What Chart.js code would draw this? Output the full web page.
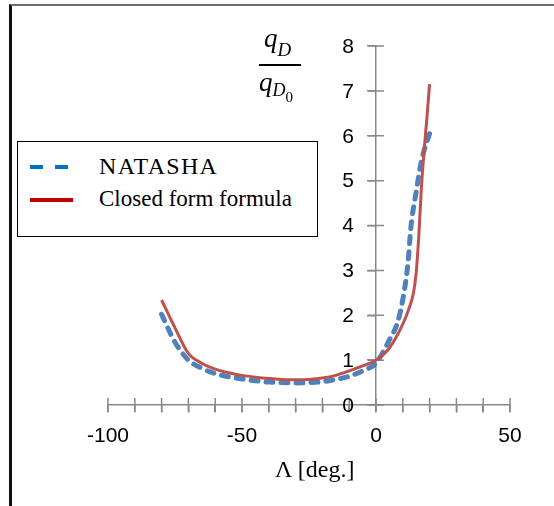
<!DOCTYPE html>
<html>
<head>
<meta charset="utf-8">
<script src="https://cdn.jsdelivr.net/npm/chart.js@4.4.1/dist/chart.umd.min.js"></script>
<style>
  body { margin: 0; background: #fff; }
  #wrap { position: relative; width: 554px; height: 506px; overflow: hidden; background: #fff; }
  #frame { position: absolute; left: 9px; top: 4px; width: 700px; height: 700px;
           border-left: 3px solid #111; border-top: 2px solid #6b6b6b; }
  canvas { position: absolute; left: 0; top: 0; }
  .serif { position: absolute; font-family: 'Liberation Serif', 'Times New Roman', serif; line-height: 1; white-space: nowrap; color: #000; }
  .it { font-style: italic; }
  #bar { position: absolute; left: 259px; top: 64px; width: 42px; height: 2px; background: #000; }
  #legend { position: absolute; left: 17px; top: 141px; width: 301px; height: 96px;
            box-sizing: border-box; border: 1.5px solid #000; background: #fff; }
</style>
</head>
<body>
<div id="wrap">
  <div id="frame"></div>
  <canvas id="chart" width="554" height="506"></canvas>
  <!-- y axis title: q_D / q_D0 -->
  <div class="serif it" style="left:264px; top:25px; font-size:27px;">q<span style="font-size:19px; position:relative; top:9px;">D</span></div>
  <div id="bar"></div>
  <div class="serif it" style="left:259px; top:69px; font-size:27px;">q<span style="font-size:18px; position:relative; top:5px;">D<span style="font-size:15px; font-style:normal; position:relative; top:6px;">0</span></span></div>
  <div class="serif" id="xtitle" style="left:275px; top:457px; font-size:24px;">Λ [deg.]</div>
  <div id="legend"></div>
</div>
<script>
// NATASHA (dashed blue)
const lambdaNatasha = [-80, -75, -70, -65, -60, -55, -50, -45, -40, -35, -30, -25, -20, -15, -10, -5, 0, 3, 5, 8, 10, 12, 13, 15, 17, 20];
const qNatasha = [2.02, 1.4, 1.0, 0.82, 0.7, 0.63, 0.58, 0.54, 0.51, 0.5, 0.49, 0.5, 0.52, 0.57, 0.64, 0.76, 0.93, 1.22, 1.45, 1.83, 2.35, 3.2, 3.95, 4.75, 5.45, 6.05];

// Closed form formula (solid red)
const lambdaClosed = [-80, -75, -70, -65, -60, -55, -50, -45, -40, -35, -30, -25, -20, -15, -10, -5, 0, 5, 10, 12, 14, 15, 16, 17, 18, 19, 20];
const qClosed = [2.34, 1.72, 1.15, 0.93, 0.8, 0.72, 0.66, 0.62, 0.59, 0.57, 0.56, 0.57, 0.6, 0.66, 0.76, 0.87, 1.0, 1.27, 1.8, 2.1, 2.5, 2.95, 3.8, 4.9, 5.7, 6.4, 7.15];

const seriesNames = ['NATASHA', 'Closed form formula'];
const xLabelValues = [-100, -50, 0, 50];

const axisColor = '#888888';
const tickFont = '21px "Liberation Sans", Arial, sans-serif';

function toPoints(xs, ys) {
  return xs.map((v, i) => ({ x: v, y: ys[i] }));
}

// tick marks crossing the axes, and the y labels left of the centred axis
const crossTicks = {
  id: 'crossTicks',
  beforeDatasetsDraw(chart) {
    const { ctx, scales: { x, y } } = chart;
    const x0 = x.getPixelForValue(0);
    const y0 = y.getPixelForValue(0);
    ctx.save();
    ctx.strokeStyle = axisColor;
    ctx.lineWidth = 1.5;
    ctx.beginPath();
    x.ticks.forEach(t => {
      const px = x.getPixelForValue(t.value);
      ctx.moveTo(px, y0 - 7);
      ctx.lineTo(px, y0 + 7);
    });
    y.ticks.forEach(t => {
      const py = y.getPixelForValue(t.value);
      ctx.moveTo(x0 - 8, py);
      ctx.lineTo(x0 + 8, py);
    });
    ctx.stroke();
    ctx.fillStyle = '#000';
    ctx.font = tickFont;
    ctx.textAlign = 'right';
    ctx.textBaseline = 'middle';
    y.ticks.forEach(t => {
      ctx.fillText(t.label, x0 - 22, y.getPixelForValue(t.value) + 1);
    });
    ctx.restore();
  }
};

const chart = new Chart(document.getElementById('chart').getContext('2d'), {
  type: 'line',
  data: {
    datasets: [
      {
        label: seriesNames[0],
        data: toPoints(lambdaNatasha, qNatasha),
        borderColor: '#4f81bd',
        borderWidth: 5,
        borderDash: [7, 8],
        borderCapStyle: 'round',
        pointRadius: 0,
        cubicInterpolationMode: 'monotone',
        fill: false,
        order: 1
      },
      {
        label: seriesNames[1],
        data: toPoints(lambdaClosed, qClosed),
        borderColor: '#c0504d',
        borderWidth: 3,
        pointRadius: 0,
        cubicInterpolationMode: 'monotone',
        fill: false,
        order: 0
      }
    ]
  },
  options: {
    responsive: false,
    animation: false,
    devicePixelRatio: 1,
    layout: { padding: { left: 108, right: 44, top: 46, bottom: 101 } },
    plugins: { legend: { display: false }, tooltip: { enabled: false } },
    scales: {
      x: {
        type: 'linear',
        position: { y: 0 },
        min: -100,
        max: 50,
        afterFit: s => { s.height = 0; },
        ticks: {
          stepSize: 10,
          autoSkip: false,
          maxRotation: 0,
          padding: 12,
          color: '#000',
          font: { family: 'Liberation Sans', size: 21 },
          callback: v => xLabelValues.includes(v) ? v : ''
        },
        grid: { drawOnChartArea: false, tickLength: 7, color: axisColor, lineWidth: 1.5 },
        border: { color: axisColor, width: 1.5 }
      },
      y: {
        type: 'linear',
        position: { x: 0 },
        min: 0,
        max: 8,
        afterFit: s => { s.width = 0; },
        ticks: { stepSize: 1, display: false },
        grid: { drawOnChartArea: false, tickLength: 8, color: axisColor, lineWidth: 1.5 },
        border: { color: axisColor, width: 1.5 }
      }
    }
  },
  plugins: [crossTicks]
});

// legend box, built from the datasets
const legendSwatches = [
  '<line x1="2" y1="4" x2="44" y2="4" stroke="#0070c0" stroke-width="4" stroke-dasharray="13 12"/>',
  '<line x1="2" y1="4" x2="45" y2="4" stroke="#c00000" stroke-width="4"/>'
];
const legendRows = [{ top: 13, size: 24, spacing: 1.3 }, { top: 46, size: 23, spacing: 0 }];
const legend = document.getElementById('legend');
chart.data.datasets.forEach((ds, i) => {
  const sw = document.createElementNS('http://www.w3.org/2000/svg', 'svg');
  sw.setAttribute('width', '50');
  sw.setAttribute('height', '8');
  sw.style.position = 'absolute';
  sw.style.left = '10px';
  sw.style.top = (legendRows[i].top + 8) + 'px';
  sw.innerHTML = legendSwatches[i];
  legend.appendChild(sw);
  const t = document.createElement('div');
  t.className = 'serif';
  t.style.left = '81px';
  t.style.top = (legendRows[i].top - 1) + 'px';
  t.style.fontSize = legendRows[i].size + 'px';
  t.style.letterSpacing = legendRows[i].spacing + 'px';
  t.textContent = ds.label;
  legend.appendChild(t);
});
</script>
</body>
</html>
